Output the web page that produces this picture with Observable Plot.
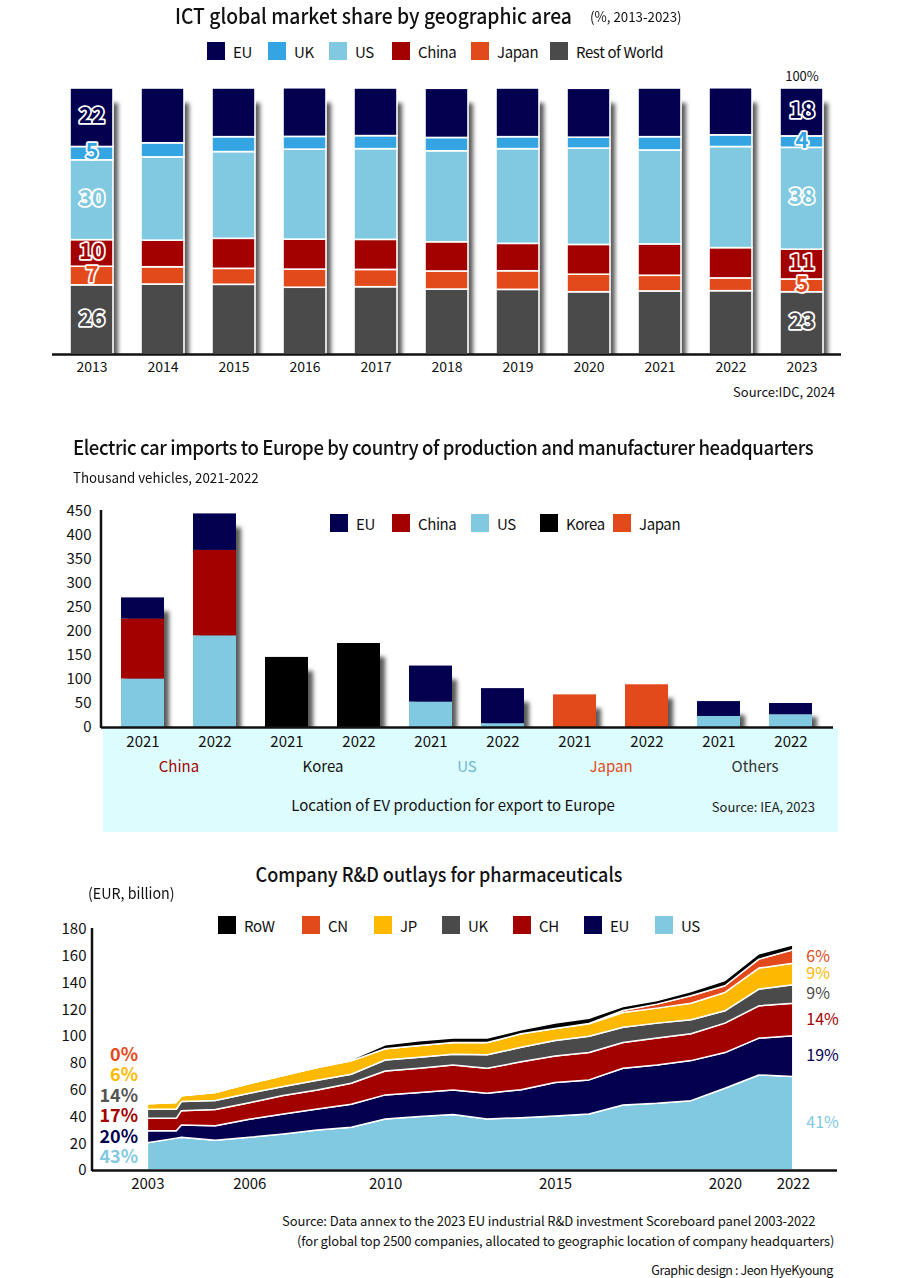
<!DOCTYPE html>
<html>
<head>
<meta charset="utf-8">
<script src="https://cdn.jsdelivr.net/npm/d3@7"></script>
<script src="https://cdn.jsdelivr.net/npm/@observablehq/plot@0.6"></script>
<style>
  body { margin: 0; background: #fff; }
  #page { position: relative; width: 904px; height: 1278px; overflow: hidden;
          font-family: "Noto Sans CJK KR", "Noto Sans", sans-serif; color: #111; }
  .abs { position: absolute; white-space: nowrap; }
  .lg { position: absolute; display: flex; align-items: center; white-space: nowrap; height: 20px; }
  .lg .sw { width: 18px; height: 18px; display: inline-block; margin-right: 8px; flex: none; }
  .chart { position: absolute; left: 0; }
</style>
</head>
<body>
<div id="page"></div>
<script>
// ---------------- DATA ----------------
// Chart 1: ICT global market share (%)
const ictYears = ["2013","2014","2015","2016","2017","2018","2019","2020","2021","2022","2023"];
const ictEU     = [22, 20.6, 18.3, 18.3, 17.9, 18.5, 18.3, 18.4, 18.3, 17.7, 18.0];
const ictUK     = [5, 5.3, 5.6, 4.8, 4.9, 5.0, 4.5, 4.1, 5.0, 4.4, 4.3];
const ictUS     = [30, 31.3, 32.6, 33.8, 34.1, 34.2, 35.6, 36.2, 35.3, 38.0, 38.3];
const ictChina  = [10, 10, 11.3, 11.3, 11.3, 11.0, 10.3, 11.2, 11.8, 11.4, 11.2];
const ictJapan  = [7, 6.5, 6.0, 6.8, 6.5, 6.8, 7.0, 6.6, 5.9, 4.8, 4.8];
const ictRoW    = [26, 26.3, 26.2, 25.1, 25.3, 24.4, 24.3, 23.4, 23.7, 23.8, 23.4];
const ictLabelYears = ["2013", "2023"];

// Chart 2: EV imports to Europe (thousand vehicles)
const evGroups = ["China", "Korea", "US", "Japan", "Others"];
const evPeriods = ["2021", "2022"];
const evUS    = [101, 191, 0, 0, 53, 8, 0, 0, 23, 26.5];
const evChina = [125, 178, 0, 0, 0, 0, 0, 0, 0, 0];
const evEU    = [44, 76, 0, 0, 75, 73, 0, 0, 31, 23.5];
const evKorea = [0, 0, 146, 175, 0, 0, 0, 0, 0, 0];
const evJapan = [0, 0, 0, 0, 0, 0, 68, 89, 0, 0];
const evTicks = [0, 50, 100, 150, 200, 250, 300, 350, 400, 450];

// Chart 3: Company R&D outlays for pharmaceuticals (EUR bn)
const rdYears = [2003, 2003.85, 2004, 2005, 2006, 2007, 2008, 2009, 2010, 2011, 2012,
                 2013, 2014, 2015, 2016, 2017, 2018, 2019, 2020, 2021, 2022];
const rdUS  = [20.4, 23.8, 24.4, 22.2, 24.4, 26.9, 29.9, 31.9, 38.1, 39.9, 41.4, 38.1, 39.1, 40.4, 41.9, 48.6, 49.8, 51.8, 61.1, 71.0, 69.8];
const rdEU  = [9.0, 5.6, 9.2, 10.8, 13.5, 15.0, 15.7, 17.2, 18.0, 17.9, 18.4, 19.3, 20.9, 24.9, 25.4, 27.4, 28.7, 29.9, 26.6, 27.5, 30.4];
const rdCH  = [9.2, 9.2, 10.7, 12.2, 12.4, 13.7, 14.2, 15.7, 17.9, 18.2, 18.7, 18.6, 20.8, 19.9, 20.4, 19.2, 20.0, 20.0, 22.0, 24.1, 24.4];
const rdUK  = [6.8, 6.8, 6.8, 6.7, 7.0, 6.7, 7.2, 6.7, 8.2, 8.2, 8.0, 10.0, 10.9, 11.5, 12.2, 11.4, 11.2, 10.5, 9.2, 12.5, 13.7];
const rdJP  = [4.1, 5.1, 4.4, 5.9, 7.2, 8.2, 9.5, 10.0, 8.3, 8.8, 8.7, 9.2, 10.0, 9.0, 9.3, 11.0, 11.2, 12.4, 13.7, 15.7, 16.2];
const rdCN  = [0, 0, 0, 0, 0, 0, 0, 0, 0, 0, 0, 0, 0, 0, 0.3, 1.5, 3.0, 5.5, 5.0, 6.7, 10.0];
const rdRoW = [0, 0, 0, 0, 0, 0, 0, 1.0, 3.0, 3.5, 3.3, 3.3, 3.0, 4.0, 3.9, 3.0, 2.7, 3.2, 4.0, 4.0, 3.7];
const rdXTicks = [2003, 2006, 2010, 2015, 2020, 2022];
const rdYTicks = [0, 20, 40, 60, 80, 100, 120, 140, 160, 180];
const rdStartLabels = ["0%", "6%", "14%", "17%", "20%", "43%"];   // CN, JP, UK, CH, EU, US (2003)
const rdEndLabels = {US: "41%", EU: "19%", CH: "14%", UK: "9%", JP: "9%", CN: "6%"};

// ---------------- STYLE ----------------
const FONT = '"Noto Sans CJK KR", "Noto Sans", sans-serif';
const NAVY = "#03014f", UKBLUE = "#34a5e2", LBLUE = "#80c9e0", RED = "#a30000",
      ORANGE = "#e2491b", DGRAY = "#4a4a4a", YELLOW = "#fdb900", SHADOW = "#5a5a5a";

const page = document.getElementById("page");
function addText(html, css) {
  const d = document.createElement("div");
  d.className = "abs";
  d.innerHTML = html;
  Object.assign(d.style, css);
  page.appendChild(d);
  return d;
}
// legend items placed at given left offsets (layout), one row
function addLegend(items, lefts, top) {
  items.forEach(([name, color], i) => {
    const it = document.createElement("div");
    it.className = "lg";
    it.style.left = lefts[i] + "px";
    it.style.top = top + "px";
    it.style.fontSize = "15px";
    it.style.letterSpacing = "-0.4px";
    it.innerHTML = `<span class="sw" style="background:${color}"></span><span>${name}</span>`;
    page.appendChild(it);
  });
}
function addChart(svg, top) {
  const wrap = document.createElement("div");
  wrap.className = "chart";
  wrap.style.top = top + "px";
  wrap.appendChild(svg);
  page.appendChild(wrap);
}
let filterCount = 0;
function addShadowBlur(svg, sd) {
  const id = "shadowblur" + (filterCount++);
  const s = d3.select(svg);
  s.insert("defs", ":first-child").append("filter").attr("id", id)
    .attr("filterUnits", "userSpaceOnUse")
    .attr("x", 0).attr("y", 0).attr("width", svg.getAttribute("width")).attr("height", svg.getAttribute("height"))
    .append("feGaussianBlur").attr("stdDeviation", sd);
  s.selectAll(`g[aria-label="shadow"], g[fill="${SHADOW}"]`).attr("filter", `url(#${id})`);
  s.selectAll(`rect[fill="${SHADOW}"]`).attr("filter", `url(#${id})`);
}
function addYAxisLine(svg, x) {
  const r = svg.scale("y").range;
  d3.select(svg).append("line")
    .attr("x1", x).attr("x2", x).attr("y1", Math.min(...r) - 1).attr("y2", Math.max(...r) + 1)
    .attr("stroke", "#111").attr("stroke-width", 2.5);
}

// ================= CHART 1 =================
const ictSeries = [
  {name: "Rest of World", values: ictRoW, color: DGRAY},
  {name: "Japan", values: ictJapan, color: ORANGE},
  {name: "China", values: ictChina, color: RED},
  {name: "US", values: ictUS, color: LBLUE},
  {name: "UK", values: ictUK, color: UKBLUE},
  {name: "EU", values: ictEU, color: NAVY}
];
const ictColor = Object.fromEntries(ictSeries.map(s => [s.name, s.color]));
const ict = [];
ictYears.forEach((year, i) => ictSeries.forEach(s => ict.push({year, region: s.name, value: s.values[i]})));
const ictTotals = ictYears.map((year, i) => ({year, total: d3.sum(ictSeries, s => s.values[i])}));

addText(`ICT global market share by geographic area`,
  {left: "175px", top: "0px", lineHeight: "30px", fontSize: "21px", fontWeight: "500",
   transform: "scaleX(0.92)", transformOrigin: "left center"});
addText(`(%, 2013-2023)`, {left: "590px", top: "5px", lineHeight: "22px", fontSize: "14px",
   transform: "scaleX(0.95)", transformOrigin: "left center"});
addLegend([["EU", NAVY], ["UK", UKBLUE], ["US", LBLUE], ["China", RED], ["Japan", ORANGE], ["Rest of World", DGRAY]],
  [207, 268, 329, 392, 471, 550], 41);

const p1 = Plot.plot({
  width: 904, height: 316,
  marginLeft: 52, marginRight: 63, marginTop: 18, marginBottom: 32,
  x: {type: "band", domain: ictYears, paddingInner: 0.4, paddingOuter: 0.2, label: null, tickSize: 0, tickPadding: 8},
  y: {domain: [0, 100], axis: null},
  color: {type: "identity"},
  style: {fontFamily: FONT, fontSize: "14px", color: "#111", background: "transparent", overflow: "visible"},
  marks: [
    Plot.barY(ictTotals, {x: "year", y: "total", dx: 5, dy: 15, fill: SHADOW, clip: true, ariaLabel: "shadow"}),
    Plot.barY(ict, {x: "year", y: "value", z: "region", fill: d => ictColor[d.region], stroke: "white", strokeWidth: 1.6}),
    Plot.ruleY([0], {stroke: "#111", strokeWidth: 2.5}),
    Plot.text(ict.filter(d => ictLabelYears.includes(d.year)), Plot.stackY({
      x: "year", y: "value", z: "region", text: d => Math.round(d.value),
      fill: d => ictColor[d.region], stroke: "white", strokeWidth: 3.5,
      fontSize: 22, fontWeight: "bold", lineHeight: 0.8
    })),
    Plot.text(ictTotals.filter(d => d.year === ictYears[ictYears.length - 1]),
      {x: "year", y: "total", text: d => Math.round(d.total) + "%", dy: -12, fontSize: 13})
  ]
});
addShadowBlur(p1, 2.2);
addChart(p1, 70);
addText("Source:IDC, 2024", {right: "69px", top: "383px", fontSize: "13px", lineHeight: "18px"});

// ================= CHART 2 =================
const evKeys = evGroups.flatMap(g => evPeriods.map(p => g + " " + p));
const evSeries = [
  {name: "US", values: evUS, color: LBLUE},
  {name: "China", values: evChina, color: RED},
  {name: "EU", values: evEU, color: NAVY},
  {name: "Korea", values: evKorea, color: "#000"},
  {name: "Japan", values: evJapan, color: ORANGE}
];
const evColor = Object.fromEntries(evSeries.map(s => [s.name, s.color]));
const groupColor = {China: RED, Korea: "#111", US: "#6db6d1", Japan: ORANGE, Others: "#333"};
const ev = [];
evKeys.forEach((key, i) => evSeries.forEach(s => { if (s.values[i] > 0) ev.push({key, series: s.name, value: s.values[i]}); }));
const evTotals = evKeys.map((key, i) => ({key, total: d3.sum(evSeries, s => s.values[i])}));

addText(`Electric car imports to Europe by country of production and manufacturer headquarters`,
  {left: "73px", top: "432px", fontSize: "20px", fontWeight: "500", lineHeight: "30px", letterSpacing: "-0.45px",
   transform: "scaleX(0.93)", transformOrigin: "left center"});
addText(`Thousand vehicles, 2021-2022`, {left: "73px", top: "467px", fontSize: "14px", lineHeight: "20px",
   transform: "scaleX(0.95)", transformOrigin: "left center"});
// cyan panel behind the category axis
addText("", {left: "103px", top: "728px", width: "735px", height: "104px", background: "#dcfcfd"});
addLegend([["EU", NAVY], ["China", RED], ["US", LBLUE], ["Korea", "#000"], ["Japan", ORANGE]],
  [330, 392, 471, 540, 613], 513);

const p2 = Plot.plot({
  width: 904, height: 330,
  marginLeft: 101, marginRight: 71, marginTop: 11, marginBottom: 103,
  x: {type: "band", domain: evKeys, paddingInner: 0.4, paddingOuter: 0.25, label: null,
      tickSize: 0, tickPadding: 9, tickFormat: k => k.split(" ")[1]},
  y: {domain: [0, 450], ticks: evTicks, tickSize: 0, tickPadding: 10, label: null},
  color: {type: "identity"},
  style: {fontFamily: FONT, fontSize: "15px", color: "#111", background: "transparent", overflow: "visible"},
  marks: [
    Plot.barY(evTotals, {x: "key", y: "total", dx: 5, dy: 14, fill: SHADOW, clip: true, ariaLabel: "shadow"}),
    Plot.barY(ev, {x: "key", y: "value", z: "series", fill: d => evColor[d.series]}),
    Plot.ruleY([0], {stroke: "#111", strokeWidth: 2.5}),
    Plot.text(evGroups, {x: g => g + " " + evPeriods[0], dx: 36, frameAnchor: "bottom", dy: 44,
      text: g => g, fill: g => groupColor[g], fontSize: 15})
  ]
});
addShadowBlur(p2, 2.2);
addYAxisLine(p2, 101);
addChart(p2, 500);
addText("Location of EV production for export to Europe",
  {left: "453px", top: "795px", transform: "translateX(-50%)", fontSize: "15px", lineHeight: "20px"});
addText("Source: IEA, 2023", {right: "89px", top: "798px", fontSize: "13px", lineHeight: "18px", color: "#222"});

// ================= CHART 3 =================
const rdSeries = [
  {name: "US", values: rdUS, color: LBLUE},
  {name: "EU", values: rdEU, color: NAVY},
  {name: "CH", values: rdCH, color: RED},
  {name: "UK", values: rdUK, color: DGRAY},
  {name: "JP", values: rdJP, color: YELLOW},
  {name: "CN", values: rdCN, color: ORANGE},
  {name: "RoW", values: rdRoW, color: "#000"}
];
const rdColor = Object.fromEntries(rdSeries.map(s => [s.name, s.color]));
const rd = [];
rdYears.forEach((year, i) => rdSeries.forEach(s => rd.push({year, region: s.name, value: s.values[i]})));
const lastYear = rdYears[rdYears.length - 1];

addText("Company R&amp;D outlays for pharmaceuticals",
  {left: "439px", top: "859px", transform: "translateX(-50%) scaleX(0.9)", fontSize: "20px", fontWeight: "500", lineHeight: "30px"});
addText("(EUR, billion)", {left: "88px", top: "883px", fontSize: "15px", lineHeight: "20px",
   transform: "scaleX(0.95)", transformOrigin: "left center"});
addLegend([["RoW", "#000"], ["CN", ORANGE], ["JP", YELLOW], ["UK", DGRAY], ["CH", RED], ["EU", NAVY], ["US", LBLUE]],
  [218, 302, 374, 442, 513, 584, 655], 915);

const p3 = Plot.plot({
  width: 904, height: 282,
  marginLeft: 92, marginRight: 67, marginTop: 9, marginBottom: 32,
  x: {domain: [2001.37, 2023.3], ticks: rdXTicks, tickFormat: d => String(d), tickSize: 0, tickPadding: 8, label: null},
  y: {domain: [0, 180], ticks: rdYTicks, tickSize: 0, tickPadding: 6, label: null},
  color: {type: "identity"},
  style: {fontFamily: FONT, fontSize: "15px", color: "#111", background: "transparent", overflow: "visible"},
  marks: [
    Plot.areaY(rd, {x: "year", y: "value", z: "region", fill: d => rdColor[d.region], stroke: "white", strokeWidth: 1.5}),
    Plot.ruleY([0], {stroke: "#111", strokeWidth: 2.5}),
    Plot.text(rd.filter(d => d.year === lastYear && d.region !== "RoW"), Plot.stackY({
      x: "year", y: "value", z: "region", text: d => rdEndLabels[d.region],
      fill: d => rdColor[d.region], dx: 13, textAnchor: "start", fontSize: 16, lineHeight: 0.9
    }))
  ]
});
addYAxisLine(p3, 92);
addChart(p3, 920);

// stacked start-year share labels (CN, JP, UK, CH, EU, US)
const startColors = [ORANGE, YELLOW, "#555", RED, NAVY, LBLUE];
addText(rdStartLabels.map((t, i) => `<div style="color:${startColors[i]}">${t}</div>`).join(""),
  {left: "90px", width: "48px", top: "1043px", textAlign: "right", fontSize: "18px", fontWeight: "bold", lineHeight: "20.4px"});

addText("Source: Data annex to the 2023 EU industrial R&amp;D investment Scoreboard panel 2003-2022",
  {left: "282px", top: "1212px", fontSize: "13px", lineHeight: "18px", letterSpacing: "-0.1px"});
addText("(for global top 2500 companies, allocated to geographic location of company headquarters)",
  {left: "297px", top: "1232px", fontSize: "13px", lineHeight: "18px", letterSpacing: "-0.15px"});
addText("Graphic design : Jeon HyeKyoung", {right: "71px", top: "1261px", fontSize: "12.5px", lineHeight: "18px", letterSpacing: "-0.4px"});
</script>
</body>
</html>
